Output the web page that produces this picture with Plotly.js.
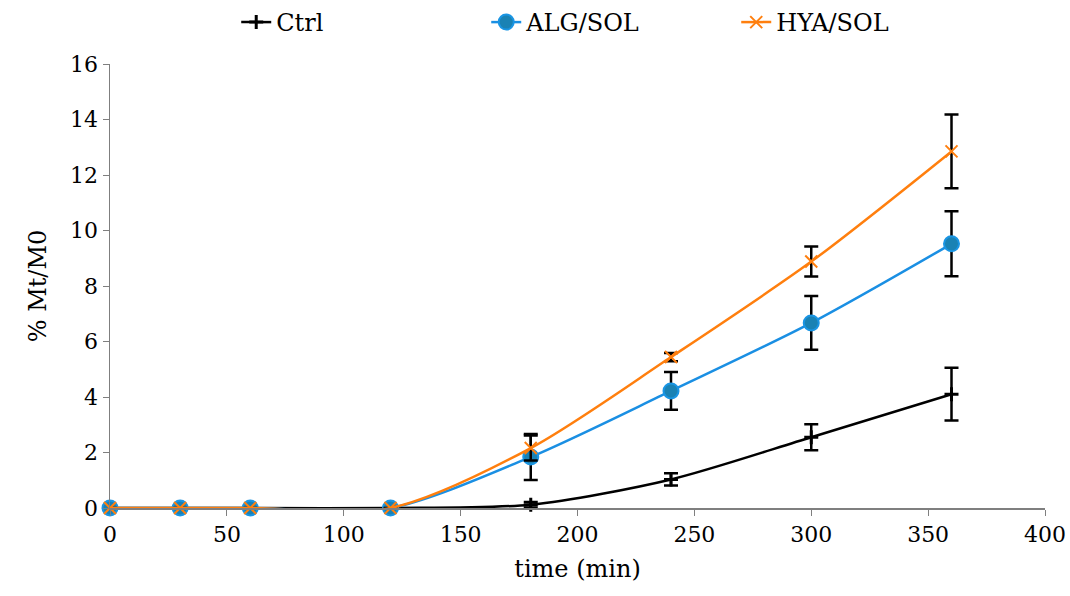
<!DOCTYPE html>
<html>
<head>
<meta charset="utf-8">
<script src="https://cdn.plot.ly/plotly-3.0.1.min.js"></script>
<style>body{margin:0;background:#fff}#chart{width:1070px;height:596px}</style>
</head>
<body>
<div id="chart"></div>
<script>
const time = [0, 30, 60, 120, 180, 240, 300, 360];
const ctrl = [0, 0, 0, 0, 0.12, 1.03, 2.55, 4.1];
const ctrlErr = [0, 0, 0, 0, 0.1, 0.22, 0.47, 0.95];
const alg = [0, 0, 0, 0, 1.84, 4.22, 6.67, 9.52];
const algErr = [0, 0, 0, 0, 0.83, 0.68, 0.97, 1.17];
const hya = [0, 0, 0, 0, 2.16, 5.44, 8.88, 12.85];
const hyaErr = [0, 0, 0, 0, 0.45, 0.15, 0.54, 1.33];
const xTicks = [0, 50, 100, 150, 200, 250, 300, 350, 400];
const yTicks = [0, 2, 4, 6, 8, 10, 12, 14, 16];

const errStyle = (arr) => ({type: 'data', array: arr, visible: true, color: '#000', thickness: 2.5, width: 7});

const traces = [
  {x: time, y: ctrl, name: 'Ctrl', mode: 'lines+markers', type: 'scatter', cliponaxis: false,
   line: {color: '#000000', width: 2.5, shape: 'spline', smoothing: 0.8},
   marker: {symbol: 'cross-thin', size: 10, line: {color: '#000', width: 3}},
   error_y: errStyle(ctrlErr)},
  {x: time, y: alg, name: 'ALG/SOL', mode: 'lines+markers', type: 'scatter', cliponaxis: false,
   line: {color: '#1a8fe3', width: 2.5, shape: 'spline', smoothing: 0.8},
   marker: {symbol: 'circle', size: 15, color: '#1a82b4', line: {color: '#1a95e3', width: 2}},
   error_y: errStyle(algErr)},
  {x: time, y: hya, name: 'HYA/SOL', mode: 'lines+markers', type: 'scatter', cliponaxis: false,
   line: {color: '#ff7f0e', width: 2.5, shape: 'spline', smoothing: 0.8},
   marker: {symbol: 'x-thin', size: 12, line: {color: '#ff7f0e', width: 2}},
   error_y: errStyle(hyaErr)}
];

const fam = '"DejaVu Serif", serif';
const tickFont = {family: fam, size: 22, color: '#000'};
const titleFont = {family: fam, size: 24, color: '#000'};
const legendFont = {family: fam, size: 24, color: '#000'};

const layout = {
  width: 1070, height: 596,
  margin: {l: 110, r: 25, t: 64, b: 88},
  paper_bgcolor: '#fff', plot_bgcolor: '#fff',
  font: tickFont,
  showlegend: true,
  legend: {orientation: 'h', x: 0.135, xanchor: 'left', yref: 'container', y: 1, yanchor: 'top',
           entrywidth: 205, entrywidthmode: 'pixels', font: legendFont, traceorder: 'normal'},
  xaxis: {range: [0, 400], tickvals: xTicks, ticktext: xTicks.map(String),
          showgrid: false, zeroline: false, showline: true, linecolor: '#7f7f7f', linewidth: 1.5,
          ticks: 'outside', ticklen: 6, tickcolor: '#7f7f7f', tickfont: tickFont,
          title: {text: 'time (min)', font: titleFont, standoff: 14}},
  yaxis: {range: [0, 16], tickvals: yTicks, ticktext: yTicks.map(String),
          showgrid: false, zeroline: false, showline: true, linecolor: '#7f7f7f', linewidth: 1.5,
          ticks: 'outside', ticklen: 6, tickcolor: '#7f7f7f', tickfont: tickFont,
          title: {text: '% Mt/M0', font: titleFont, standoff: 16}}
};

Plotly.newPlot('chart', traces, layout, {displayModeBar: false, staticPlot: true});
</script>
</body>
</html>
